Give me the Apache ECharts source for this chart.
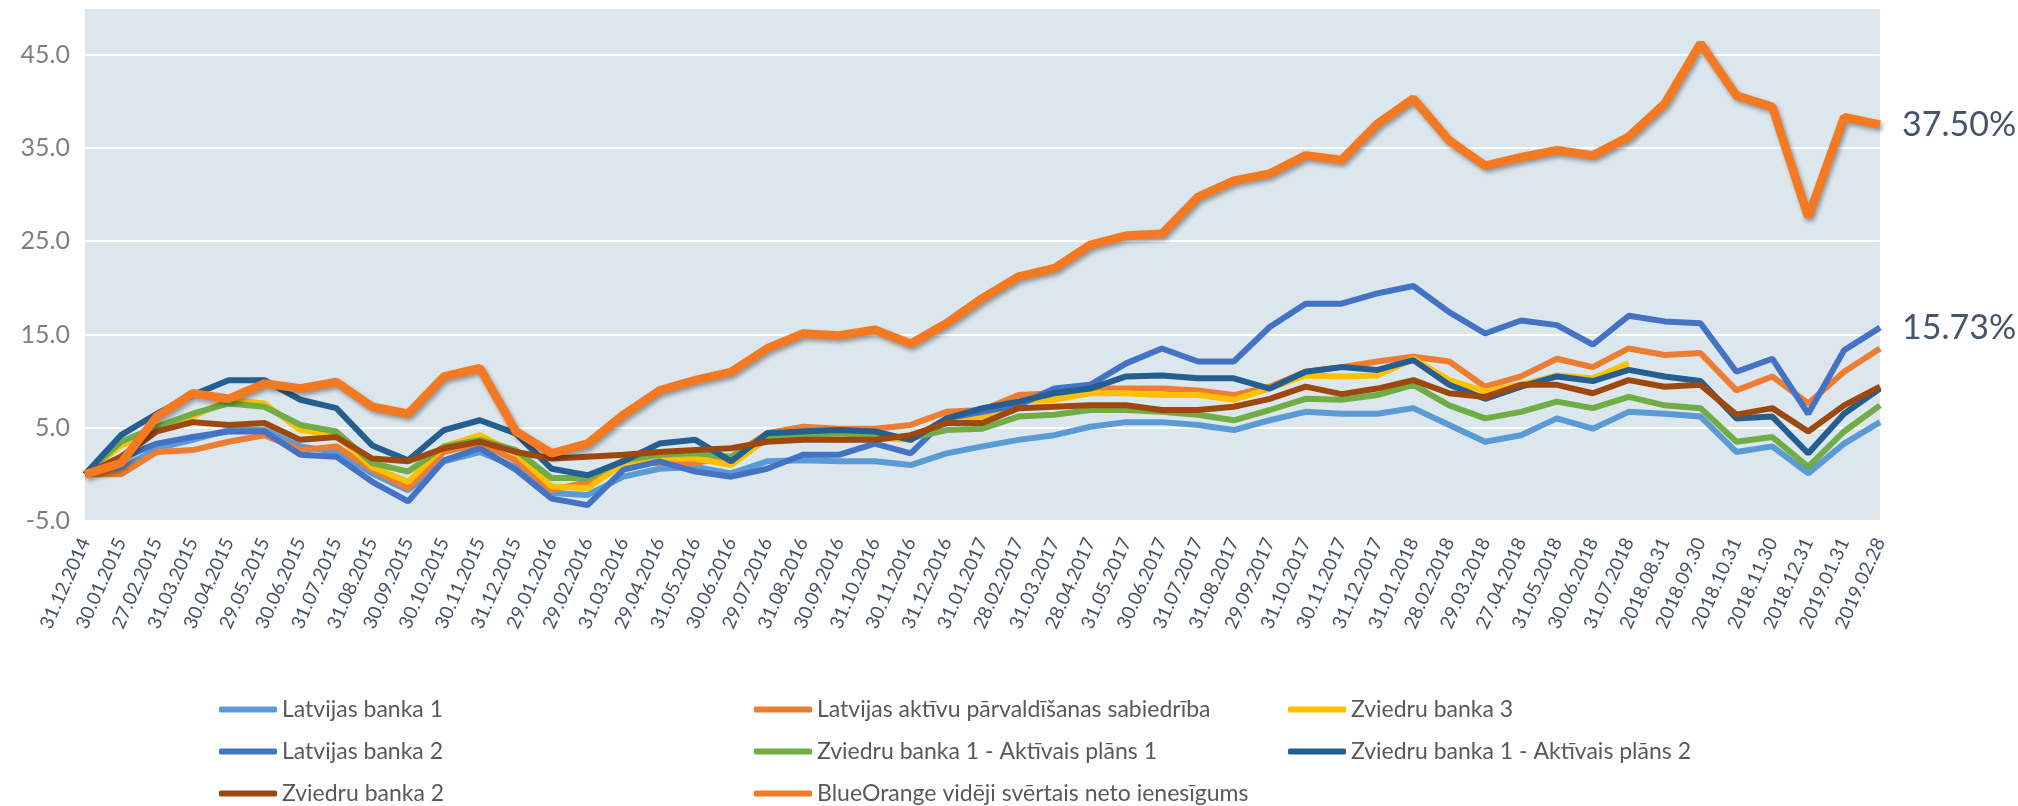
<!DOCTYPE html>
<html>
<head>
<meta charset="utf-8">
<script src="https://cdn.jsdelivr.net/npm/echarts@6/dist/echarts.min.js"></script>
<style>
  html, body { margin: 0; padding: 0; background: #fff; }
  #chart { width: 2018px; height: 806px; }
</style>
</head>
<body>
<div id="chart"></div>
<script>
  // datumi (x ass)
  const categories = [
    '31.12.2014', '30.01.2015', '27.02.2015', '31.03.2015', '30.04.2015', '29.05.2015',
    '30.06.2015', '31.07.2015', '31.08.2015', '30.09.2015', '30.10.2015', '30.11.2015',
    '31.12.2015', '29.01.2016', '29.02.2016', '31.03.2016', '29.04.2016', '31.05.2016',
    '30.06.2016', '29.07.2016', '31.08.2016', '30.09.2016', '31.10.2016', '30.11.2016',
    '31.12.2016', '31.01.2017', '28.02.2017', '31.03.2017', '28.04.2017', '31.05.2017',
    '30.06.2017', '31.07.2017', '31.08.2017', '29.09.2017', '31.10.2017', '30.11.2017',
    '31.12.2017', '31.01.2018', '28.02.2018', '29.03.2018', '27.04.2018', '31.05.2018',
    '30.06.2018', '31.07.2018', '2018.08.31', '2018.09.30', '2018.10.31', '2018.11.30',
    '2018.12.31', '2019.01.31', '2019.02.28'
  ];

  // y ass
  const yMin = -5;
  const yMax = 50;
  const yStep = 10;

  // sēriju dati (ienesīgums, %)
  const latvijasBanka1 = [
    0, 0.5, 2.8, 3.7, 4.75, 4.75, 3.0, 2.4, 0.1, -1.7, 1.4, 2.4, 0.8, -2.0, -2.2, -0.25, 0.6,
    0.8, 0.1, 1.4, 1.5, 1.4, 1.4, 1.0, 2.25, 3.0, 3.7, 4.2, 5.1, 5.6, 5.6, 5.3, 4.75, 5.8,
    6.7, 6.5, 6.5, 7.1, 5.3, 3.5, 4.2, 6.0, 4.9, 6.7, 6.5, 6.2, 2.4, 3.0, 0.1, 3.3, 5.6
  ];
  const latvijasAps = [
    0, 0, 2.4, 2.6, 3.5, 4.2, 2.6, 3.0, 0.5, -1.5, 2.4, 3.3, 1.5, -1.7, -0.8, 1.5, 1.2,
    1.2, 1.9, 4.4, 5.1, 4.9, 4.9, 5.3, 6.7, 6.9, 8.5, 8.7, 9.2, 9.2, 9.2, 9.0, 8.5, 9.4,
    11.0, 11.5, 12.1, 12.6, 12.1, 9.4, 10.5, 12.4, 11.5, 13.5, 12.8, 13.0, 9.0, 10.5, 7.6, 11.0, 13.5
  ];
  const zviedruBanka3 = [
    0, 3.1, 4.75, 6.2, 8.0, 7.6, 4.75, 4.2, 0.8, -0.8, 3.0, 4.2, 2.25, -1.3, -1.5, 1.2, 1.7,
    1.7, 1.0, 3.9, 3.9, 3.7, 3.9, 3.7, 5.8, 6.2, 7.8, 8.0, 8.7, 8.7, 8.5, 8.5, 8.0, 9.2,
    10.6, 10.5, 10.6, 12.4, 10.1, 8.9, 9.6, 10.6, 10.3, 11.9, null, null, null, null, null, null, null
  ];
  const latvijasBanka2 = [
    0, 1.7, 3.3, 4.0, 4.6, 4.6, 2.1, 1.9, -0.8, -2.9, 1.5, 2.8, 0.5, -2.6, -3.3, 0.5, 1.4,
    0.3, -0.25, 0.6, 2.1, 2.1, 3.3, 2.25, 6.0, 6.7, 7.4, 9.2, 9.6, 11.9, 13.5, 12.1, 12.1, 15.8,
    18.3, 18.3, 19.4, 20.2, 17.4, 15.1, 16.5, 16.0, 13.9, 17.0, 16.4, 16.2, 11.0, 12.4, 6.5, 13.3, 15.73
  ];
  const zb1Plans1 = [
    0, 3.5, 5.1, 6.5, 7.6, 7.25, 5.3, 4.6, 1.2, 0.3, 3.0, 3.7, 2.6, -0.4, -0.4, 1.5, 2.1,
    2.25, 1.9, 4.0, 4.2, 4.4, 4.2, 3.9, 4.75, 4.9, 6.2, 6.4, 6.9, 6.9, 6.7, 6.4, 5.8, 6.9,
    8.1, 8.0, 8.5, 9.6, 7.4, 6.0, 6.7, 7.8, 7.1, 8.3, 7.4, 7.1, 3.5, 4.0, 0.8, 4.6, 7.4
  ];
  const zb1Plans2 = [
    0, 4.2, 6.5, 8.5, 10.1, 10.1, 8.0, 7.1, 3.1, 1.5, 4.75, 5.8, 4.4, 0.6, -0.1, 1.4, 3.3,
    3.7, 1.4, 4.4, 4.6, 4.75, 4.6, 3.7, 6.0, 7.1, 7.8, 8.7, 9.2, 10.5, 10.6, 10.3, 10.3, 9.2,
    11.0, 11.5, 11.2, 12.25, 9.6, 8.1, 9.4, 10.5, 10.0, 11.2, 10.5, 10.0, 6.0, 6.2, 2.25, 6.5, 9.2
  ];
  const zviedruBanka2 = [
    0, 1.9, 4.6, 5.6, 5.3, 5.5, 3.7, 4.0, 1.7, 1.4, 2.8, 3.5, 2.4, 1.7, 1.9, 2.1, 2.4,
    2.6, 2.8, 3.5, 3.7, 3.7, 3.7, 4.2, 5.5, 5.5, 7.1, 7.25, 7.4, 7.4, 6.9, 6.9, 7.25, 8.1,
    9.4, 8.6, 9.2, 10.1, 8.7, 8.3, 9.6, 9.6, 8.7, 10.1, 9.4, 9.6, 6.4, 7.1, 4.6, 7.4, 9.4
  ];
  const blueOrange = [
    0, 1.2, 6.2, 8.7, 8.1, 9.75, 9.2, 9.9, 7.25, 6.5, 10.5, 11.4, 4.6, 2.25, 3.3, 6.4, 9.0,
    10.1, 11.0, 13.5, 15.1, 14.9, 15.5, 14.0, 16.2, 18.9, 21.2, 22.1, 24.6, 25.6, 25.8, 29.75, 31.5, 32.25,
    34.2, 33.7, 37.6, 40.3, 35.8, 33.1, 34.0, 34.75, 34.2, 36.2, 39.75, 46.2, 40.6, 39.4, 27.6, 38.3, 37.5
  ];

  const names = [
    'Latvijas banka 1',
    'Latvijas aktīvu pārvaldīšanas sabiedrība',
    'Zviedru banka 3',
    'Latvijas banka 2',
    'Zviedru banka 1 - Aktīvais plāns 1',
    'Zviedru banka 1 - Aktīvais plāns 2',
    'Zviedru banka 2',
    'BlueOrange vidēji svērtais neto ienesīgums'
  ];
  const colors = ['#5B9BD5', '#ED7D31', '#FFC000', '#4472C4', '#70AD47', '#255E91', '#9E480E', '#F47920'];
  const values = [latvijasBanka1, latvijasAps, zviedruBanka3, latvijasBanka2, zb1Plans1, zb1Plans2, zviedruBanka2, blueOrange];

  const font = 'Lato, "Open Sans", sans-serif';

  // beigu etiķete (tikai divām sērijām)
  function endLabel(show) {
    return {
      show: show,
      distance: 22,
      color: '#44546A',
      fontFamily: font,
      fontSize: 34,
      formatter: function (p) { return p.value.toFixed(2) + '%'; }
    };
  }

  const series = names.map(function (name, i) {
    const isBo = i === 7;
    return {
      name: name,
      type: 'line',
      data: values[i],
      symbol: 'none',
      connectNulls: false,
      z: 2 + i,
      lineStyle: {
        color: colors[i],
        width: isBo ? 8.5 : 6,
        shadowColor: isBo ? 'rgba(0,0,0,0.35)' : 'rgba(0,0,0,0)',
        shadowBlur: isBo ? 4 : 0,
        shadowOffsetX: isBo ? 2 : 0,
        shadowOffsetY: isBo ? 3 : 0
      },
      itemStyle: { color: colors[i] },
      endLabel: endLabel(isBo || i === 3),
      emphasis: { disabled: true }
    };
  });

  // viena leģendas kolonna (3 kolonnas kā oriģinālā)
  function legendCol(left, items) {
    return {
      orient: 'vertical',
      left: left,
      top: 698,
      height: 160,
      padding: 0,
      itemWidth: 58,
      itemHeight: 6,
      itemGap: 19,
      icon: 'roundRect',
      selectedMode: false,
      textStyle: { color: '#595959', fontFamily: font, fontSize: 23 },
      data: items
    };
  }

  const option = {
    animation: false,
    color: colors,
    grid: {
      left: 85,
      right: 138,
      top: 8,
      bottom: 285,
      show: true,
      backgroundColor: '#DCE6ED',
      borderWidth: 0
    },
    legend: [
      legendCol(219, [names[0], names[3], names[6]]),
      legendCol(754, [names[1], names[4], names[7]]),
      legendCol(1288, [names[2], names[5]])
    ],
    xAxis: {
      type: 'category',
      data: categories,
      boundaryGap: false,
      axisLine: { show: false },
      axisTick: { show: false },
      splitLine: { show: false },
      axisLabel: {
        interval: 0,
        rotate: 66,
        margin: 18,
        color: '#44546A',
        fontFamily: font,
        fontSize: 19
      }
    },
    yAxis: {
      type: 'value',
      min: yMin,
      max: yMax,
      interval: yStep,
      axisLine: { show: false },
      axisTick: { show: false },
      splitLine: { lineStyle: { color: '#FFFFFF', width: 2 } },
      axisLabel: {
        showMaxLabel: false,
        margin: 15,
        color: '#7F7F7F',
        fontFamily: font,
        fontSize: 25,
        formatter: function (v) { return v.toFixed(1); }
      }
    },
    series: series
  };

  const myChart = echarts.init(document.getElementById('chart'));
  myChart.setOption(option);
</script>
</body>
</html>
